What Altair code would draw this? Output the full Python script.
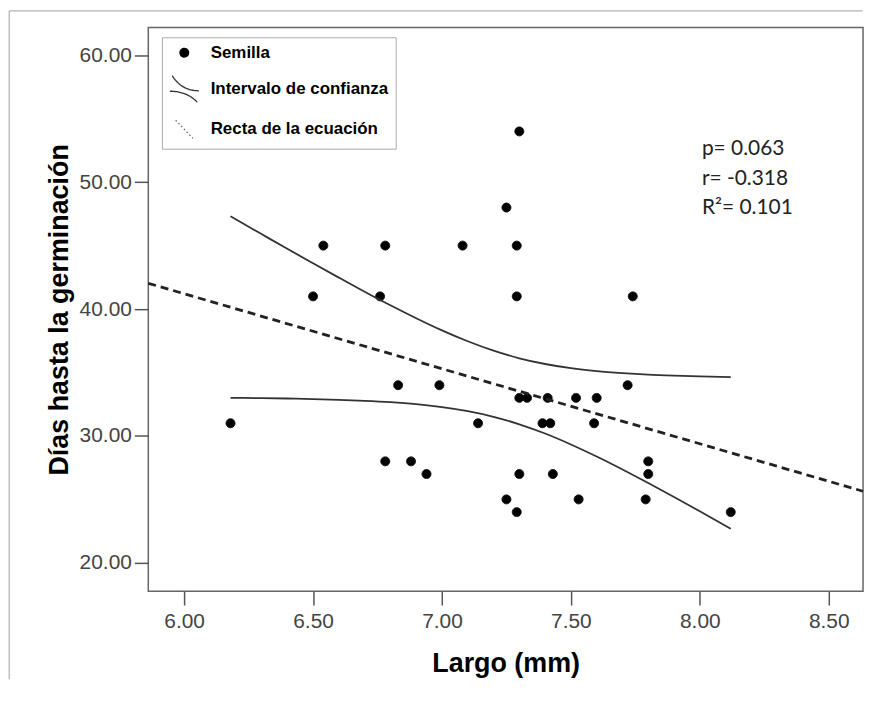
import altair as alt
import pandas as pd

# ---------------- data ----------------
largo = [6.18, 6.50, 6.54, 6.76, 6.78, 6.78, 6.83, 6.88, 6.94, 6.99, 7.08, 7.14,
         7.25, 7.25, 7.29, 7.29, 7.29, 7.30, 7.30, 7.30, 7.33, 7.39, 7.41, 7.42,
         7.43, 7.52, 7.53, 7.59, 7.60, 7.72, 7.74, 7.79, 7.80, 7.80, 8.12]
dias = [31, 41, 45, 41, 45, 28, 34, 28, 27, 34, 45, 31,
        48, 25, 45, 41, 24, 54, 33, 27, 33, 31, 33, 31,
        27, 33, 25, 31, 33, 34, 41, 25, 28, 27, 24]

ci_x = [6.18, 6.3, 6.4, 6.5, 6.6, 6.7, 6.8, 6.9, 7.0, 7.1, 7.2, 7.3, 7.4, 7.5,
        7.6, 7.7, 7.8, 7.9, 8.0, 8.12]
ci_upper = [47.31, 45.91, 44.75, 43.61, 42.48, 41.37, 40.30, 39.28, 38.32, 37.46,
            36.72, 36.12, 35.67, 35.34, 35.11, 34.95, 34.83, 34.75, 34.69, 34.64]
ci_lower = [33.00, 32.98, 32.95, 32.91, 32.85, 32.77, 32.66, 32.50, 32.27, 31.95,
            31.51, 30.92, 30.19, 29.33, 28.38, 27.36, 26.29, 25.19, 24.06, 22.69]

legend_items = ["Semilla", "Intervalo de confianza", "Recta de la ecuación"]
stats_text = ["p= 0.063", "r= -0.318", "R\u00b2= 0.101"]
stats_x = [8.008, 8.008, 8.008]
stats_y = [52.64, 50.21, 47.94]

x_ticks = [6.0, 6.5, 7.0, 7.5, 8.0, 8.5]
y_ticks = [20, 30, 40, 50, 60]
x_domain = [5.861, 8.633]
y_domain = [17.77, 62.18]

# ---------------- tables ----------------
pts = pd.DataFrame({"largo": largo, "dias": dias, "serie": "Semilla"})
n = len(ci_x)
ci = pd.DataFrame({"largo": ci_x + ci_x,
                   "dias": ci_upper + ci_lower,
                   "banda": ["sup"] * n + ["inf"] * n})
stats = pd.DataFrame({"largo": stats_x, "dias": stats_y, "txt": stats_text})
frame = pd.DataFrame({"k": ["a"]})

xs = alt.Scale(domain=x_domain, nice=False, zero=False)
ys = alt.Scale(domain=y_domain, nice=False, zero=False)

x_axis = alt.Axis(values=x_ticks, format=".2f", title="Largo (mm)",
                  labelPadding=6, titlePadding=19)
y_axis = alt.Axis(values=y_ticks, format=".2f", title="Días hasta la germinación",
                  labelPadding=3, titlePadding=6)

X = alt.X("largo:Q", scale=xs, axis=x_axis)
Y = alt.Y("dias:Q", scale=ys, axis=y_axis)

# legend symbol shapes (custom SVG paths)
curves_path = "M-2.8,-3.2 Q-0.6,0.3 3.4,0.3 M-3.35,0.4 Q0.6,0.4 3.0,2.95"
diag_path = "M-2.0,-2.1 L2.0,2.1"

leg = alt.Legend(
    orient="none", legendX=13.7, legendY=9.7, title=None,
    labelFont="Liberation Sans", labelFontWeight="bold", labelFontSize=17,
    labelColor="black", labelLimit=400, symbolSize=75, symbolStrokeWidth=1.3,
    padding=7, symbolOffset=7, labelOffset=18, rowPadding=12,
    strokeColor="#aaaaaa", fillColor="white",
)

border_v = alt.Chart(frame).mark_rule(color="#a0a0a0", strokeWidth=1).encode(
    x=alt.value(-139.8), y=alt.value(-16.8), y2=alt.value(655))
border_h = alt.Chart(frame).mark_rule(color="#a0a0a0", strokeWidth=1).encode(
    x=alt.value(-139.8), x2=alt.value(718), y=alt.value(-16.8))

band = alt.Chart(ci).mark_line(color="#333333", strokeWidth=1.8,
                               interpolate="monotone").encode(
    x=X, y=Y, detail="banda:N",
)

reg = alt.Chart(pts).transform_regression(
    "largo", "dias", extent=x_domain
).mark_line(color="#222222", strokeWidth=2.8, strokeDash=[8, 5]).encode(
    x=X, y=Y,
)

points = alt.Chart(pts).mark_point(size=80, strokeWidth=1, opacity=1).encode(
    x=X, y=Y,
    shape=alt.Shape("serie:N", scale=alt.Scale(domain=legend_items,
                    range=["circle", curves_path, diag_path]), legend=leg),
    fill=alt.Fill("serie:N", scale=alt.Scale(domain=legend_items,
                  range=["black", "transparent", "transparent"]), legend=leg),
    stroke=alt.Stroke("serie:N", scale=alt.Scale(domain=legend_items,
                      range=["black", "#333333", "#666666"]), legend=leg),
    strokeDash=alt.StrokeDash("serie:N", scale=alt.Scale(domain=legend_items,
                              range=[[1, 0], [1, 0], [1.5, 2.5]]), legend=leg),
)

annot = alt.Chart(stats).mark_text(align="left", baseline="middle", font="Lato",
                                   fontSize=21, color="#222222").encode(
    x=X, y=Y, text="txt:N",
)

chart = alt.layer(points, band, reg, annot, border_v, border_h).properties(
    width=718.4, height=566.4, background="white", padding=0
).configure_view(
    stroke="#666666", strokeWidth=1.5
).configure_axis(
    domain=False, grid=False, ticks=True, tickColor="#555555", tickWidth=1.5,
    tickSize=14, labelFont="Liberation Sans", labelFontSize=21,
    labelColor="#444444", titleFont="Liberation Sans", titleFontSize=27,
    titleFontWeight="bold", titleColor="black",
)

chart.save("out.html", embed_options={"renderer": "svg", "actions": False})
